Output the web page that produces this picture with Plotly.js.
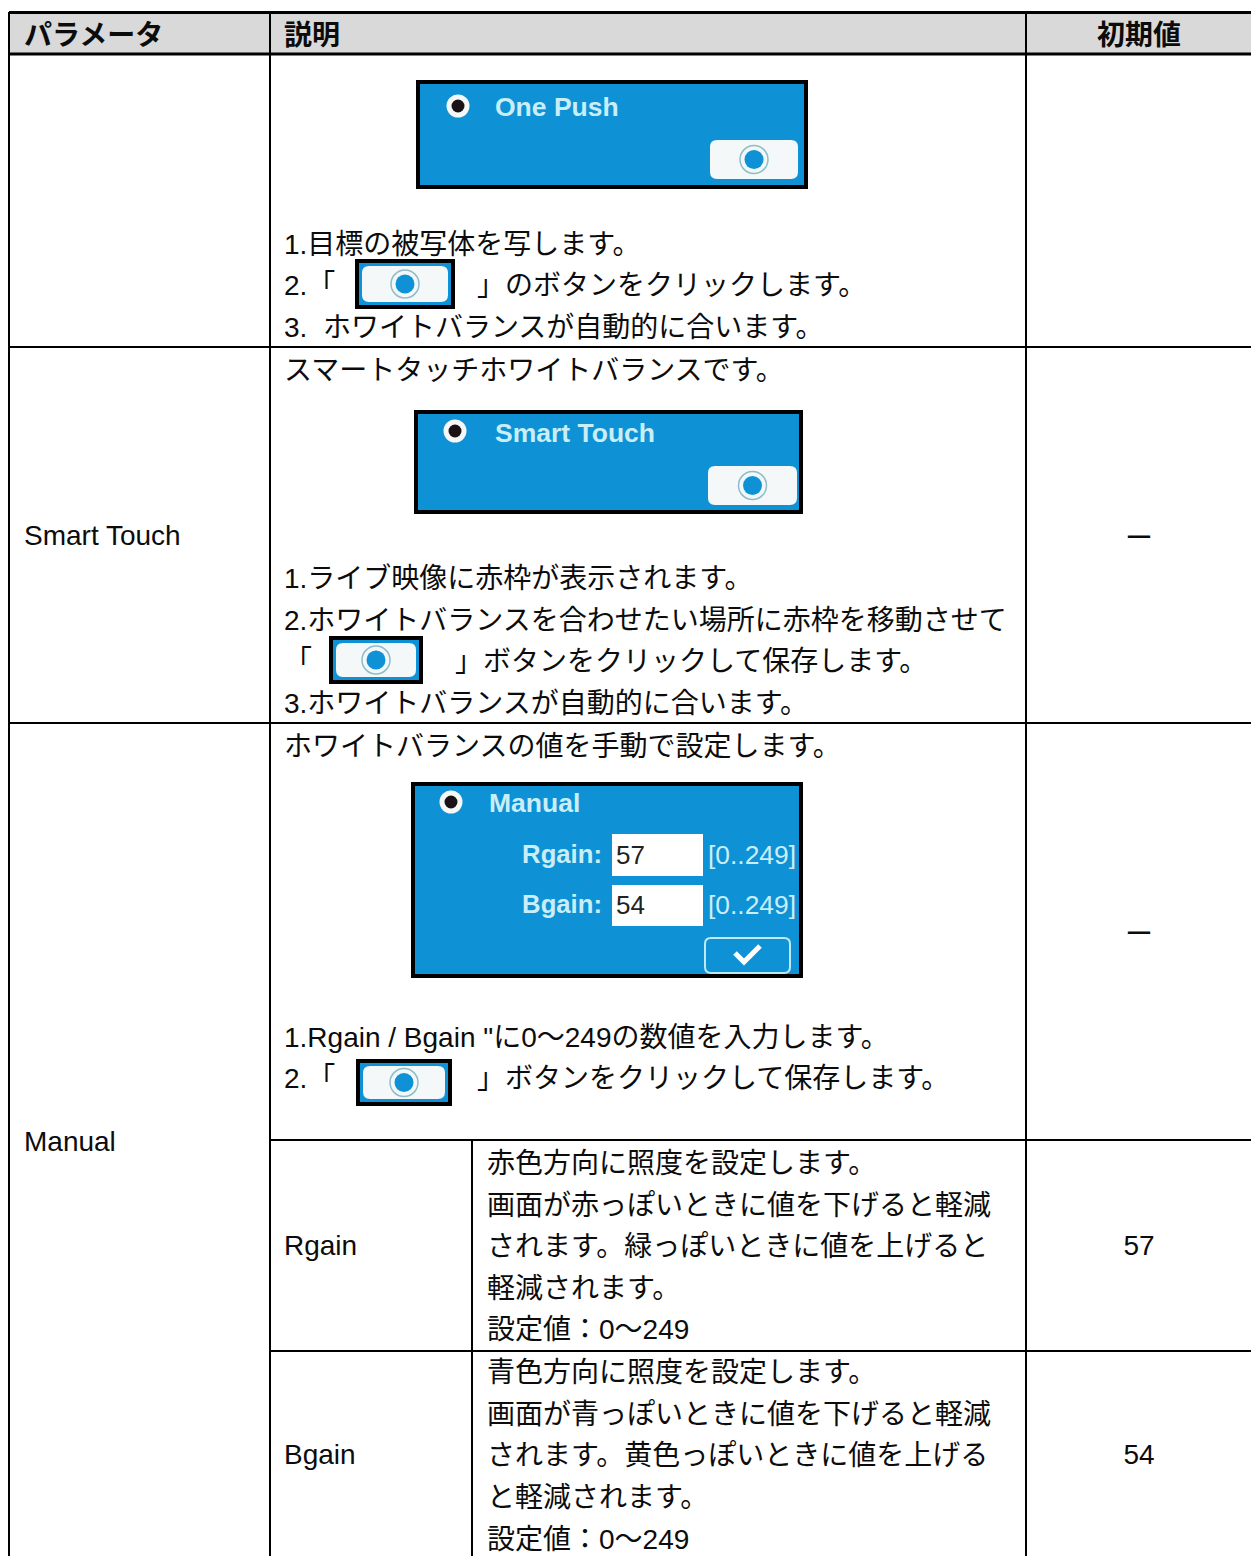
<!DOCTYPE html>
<html><head><meta charset="utf-8">
<script src="https://cdn.plot.ly/plotly-3.0.1.min.js"></script>
<style>html,body{margin:0;padding:0;background:#fff;overflow:hidden}#c{width:1251px;height:1556px}</style>
</head><body><div id="c"></div>
<script>
// ---- table content ----
const headers = ["パラメータ", "説明", "初期値"];
const parameterNames = ["Smart Touch", "Manual"];
const subParameterNames = ["Rgain", "Bgain"];
const defaultValues = ["ー", "ー"];
const gainDefaults = ["57", "54"];
const descriptionLines = [
  "1.目標の被写体を写します。",
  "2.「",
  "」のボタンをクリックします。",
  "3.\u00a0 ホワイトバランスが自動的に合います。",
  "スマートタッチホワイトバランスです。",
  "1.ライブ映像に赤枠が表示されます。",
  "2.ホワイトバランスを合わせたい場所に赤枠を移動させて",
  "「",
  "」ボタンをクリックして保存します。",
  "3.ホワイトバランスが自動的に合います。",
  "ホワイトバランスの値を手動で設定します。",
  "1.Rgain / Bgain \"に0〜249の数値を入力します。",
  "2.「",
  "」ボタンをクリックして保存します。"
];
const subDescriptionLines = [
  "赤色方向に照度を設定します。",
  "画面が赤っぽいときに値を下げると軽減",
  "されます。緑っぽいときに値を上げると",
  "軽減されます。",
  "設定値：0〜249",
  "青色方向に照度を設定します。",
  "画面が青っぽいときに値を下げると軽減",
  "されます。黄色っぽいときに値を上げる",
  "と軽減されます。",
  "設定値：0〜249"
];
const panelTitles = ["One Push", "Smart Touch", "Manual"];
const gainLabels = ["Rgain:", "Bgain:"];
const gainValues = ["57", "54"];
const gainRanges = ["[0..249]", "[0..249]"];

// ---- layout of the page ----
const W = 1251, H = 1556;
const FONT = '"Liberation Sans", "Noto Sans CJK JP", sans-serif';
const SIZE = 28, BLACK = '#0c0c0c', BLUE = '#0f92d5', PALE = '#c9eef8', LINE = '#000';
const DY = 3;   // baseline correction of the text row centres
const descX = [284,284,477,284,284,284,284,284,455,284,284,284,284,477];
const descY = [244,285,285,327,370,578,620,661,661,703,746,1037,1078,1078];
const subY = [1163,1205,1246,1288,1329,1372,1414,1455,1497,1539];

function textTrace(text, x, y, pos, size, color, bold) {
  return {type:'scatter', mode:'text', x, y:y.map(v=>v+DY), text, textposition:pos, cliponaxis:false,
    textfont:{family:FONT, size, color, weight: bold ? 700 : 400},
    hoverinfo:'skip', showlegend:false};
}
const traces = [
  textTrace([headers[0],headers[1]], [24,284], [35,35], 'middle right', SIZE, BLACK, true),
  textTrace([headers[2]], [1139], [35], 'middle center', SIZE, BLACK, true),
  textTrace(parameterNames, [24,24], [535,1141], 'middle right', SIZE, BLACK),
  textTrace(subParameterNames, [284,284], [1245,1454], 'middle right', SIZE, BLACK),
  textTrace(defaultValues, [1139,1139], [538,934], 'middle center', SIZE, BLACK),
  textTrace(gainDefaults, [1139,1139], [1245,1454], 'middle center', SIZE, BLACK),
  textTrace(descriptionLines, descX, descY, 'middle right', SIZE, BLACK),
  textTrace(subDescriptionLines, subY.map(()=>487), subY, 'middle right', SIZE, BLACK),
  textTrace(panelTitles, [495,495,489], [106,432,802], 'middle right', 26.5, PALE, true),
  textTrace(gainLabels, [602,602], [854,904], 'middle left', 25.7, PALE, true),
  textTrace(gainValues, [616,616], [854,904], 'middle right', 26, '#222'),
  textTrace(gainRanges, [708,708], [854,904], 'middle right', 26.4, PALE)
];

const shapes = [];
const add = s => shapes.push(Object.assign({layer:'below'}, s));
const rect = (x0,y0,x1,y1,fill,lc,lw) => add({type:'rect',x0,y0,x1,y1,fillcolor:fill||'rgba(0,0,0,0)',line:{color:lc||'rgba(0,0,0,0)',width:lw||0}});
const seg = (x0,y0,x1,y1,w) => add({type:'line',x0,y0,x1,y1,line:{color:LINE,width:w||2}});
const circ = (cx,cy,r,fill,lc,lw) => add({type:'circle',x0:cx-r,y0:cy-r,x1:cx+r,y1:cy+r,fillcolor:fill,line:{color:lc||'rgba(0,0,0,0)',width:lw||0}});
function round(x0,y0,x1,y1,r,fill,lc,lw){
  add({type:'path',path:`M${x0+r},${y0} L${x1-r},${y0} Q${x1},${y0} ${x1},${y0+r} L${x1},${y1-r} Q${x1},${y1} ${x1-r},${y1} L${x0+r},${y1} Q${x0},${y1} ${x0},${y1-r} L${x0},${y0+r} Q${x0},${y0} ${x0+r},${y0} Z`,
    fillcolor:fill,line:{color:lc||'rgba(0,0,0,0)',width:lw||0}});
}
function dot(cx,cy){ circ(cx,cy,14,'#f2f8f9','#8fbcc8',1.5); circ(cx,cy,9.5,BLUE); }
function button(x0,y0,x1,y1){ round(x0,y0,x1,y1,7,'#f4f8f8'); dot((x0+x1)/2,(y0+y1)/2); }
function radio(cx,cy){ circ(cx,cy,11.5,'#f6f8f8'); circ(cx,cy,6.5,'#1a1214'); }
function panel(x0,y0,x1,y1){ rect(x0,y0,x1,y1,BLUE,'#000',4); }
function inline(x0,y0,x1,y1){ rect(x0,y0,x1,y1,BLUE,'#000',4); button(x0+5,y0+5,x1-5,y1-5); }

// table grid
rect(9,13,W,54,'#d9d9d9');
seg(9,12.5,W,12.5,3); seg(9,54,W,54,3);
seg(9,12,9,H); seg(270,12,270,H); seg(1026,12,1026,H); seg(472,1140,472,H);
seg(9,347,W,347); seg(9,723,W,723); seg(270,1140,W,1140); seg(270,1351,W,1351);

// screenshots
panel(418,82,806,187); radio(458,106); button(710,140,798,179);
panel(416,412,801,512); radio(455,431); button(708,466,797,505);
panel(413,784,801,976); radio(451,802);
rect(612,834,703,876,'#fff'); rect(612,885,703,926,'#fff');
round(705,938,790,973,6,'rgba(0,0,0,0)','#bdeaf7',2);
add({type:'path',path:'M735,953 L744,962 L760,946',line:{color:'#fff',width:5},fillcolor:'rgba(0,0,0,0)'});
inline(357,261,453,307); inline(331,638,421,682); inline(358,1061,450,1104);

Plotly.newPlot('c', traces, {
  width:W, height:H, margin:{l:0,r:0,t:0,b:0}, paper_bgcolor:'#fff', plot_bgcolor:'#fff', showlegend:false,
  xaxis:{range:[0,W], visible:false, fixedrange:true},
  yaxis:{range:[H,0], visible:false, fixedrange:true},
  shapes
}, {staticPlot:true, displayModeBar:false});
</script></body></html>
